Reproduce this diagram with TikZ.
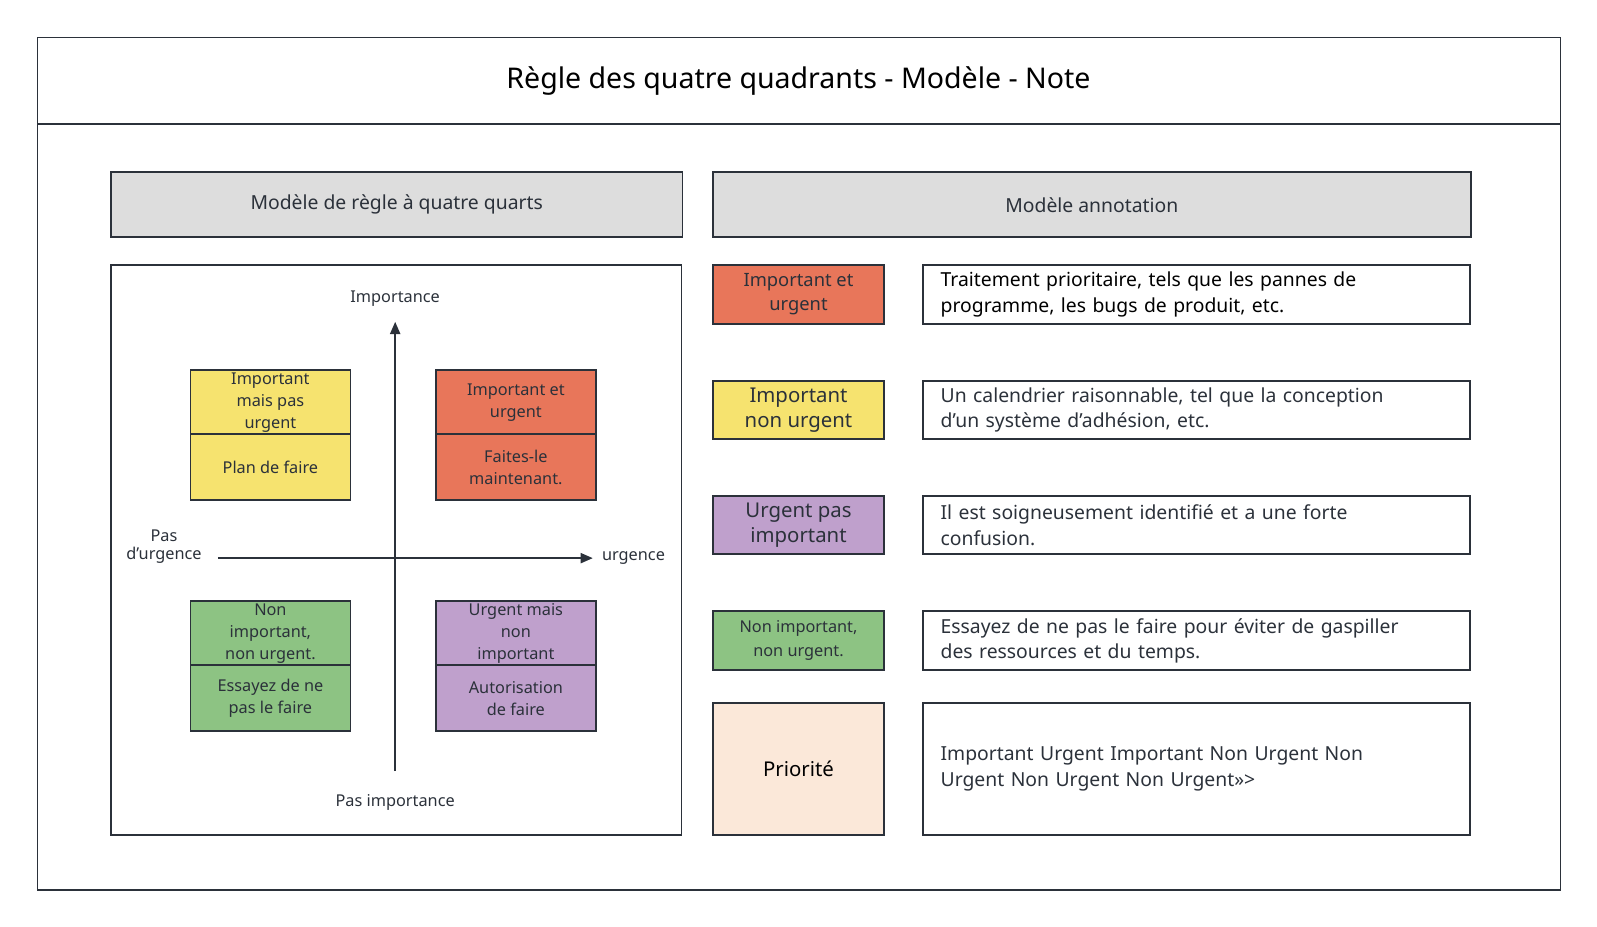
\documentclass[tikz,border=0pt]{standalone}
\usepackage{fontspec}
\setmainfont{Noto Sans}
\usetikzlibrary{arrows.meta}
\definecolor{ln}{HTML}{2B313A}
\definecolor{hd}{HTML}{DDDDDD}
\definecolor{yl}{HTML}{F6E36F}
\definecolor{rd}{HTML}{E8765A}
\definecolor{pu}{HTML}{BFA0CC}
\definecolor{gr}{HTML}{8DC383}
\definecolor{pc}{HTML}{FBE8D9}
\begin{document}
\begin{tikzpicture}[x=1pt,y=-1pt,
  bx/.style={draw=ln,line width=1.6pt},
  q/.style={font=\fontsize{16}{18}\selectfont\bfseries,text=ln,align=center},
  lb/.style={font=\fontsize{19}{23}\selectfont\bfseries,text=ln,align=center},
  tx/.style={font=\fontsize{19}{23}\selectfont,text=ln,align=left,anchor=west,text width=520pt},
  ax/.style={line width=1.6pt,draw=ln,-{Triangle[length=12pt,width=10pt]}}]
\useasboundingbox (0,0) rectangle (1568,910);
\draw[bx] (37,37) rectangle (1532,874);
\draw[bx] (37,122) -- (1532,122);
\node[font=\fontsize{28}{32}\selectfont\bfseries,text=black] (title) at (784,80) {Règle des quatre quadrants - Modèle - Note};
\draw[bx,fill=hd] (109,169) rectangle (670,233);
\node[lb] (h1) at (389.5,201) {Modèle de règle à quatre quarts};
\draw[bx,fill=hd] (700,169) rectangle (1444,233);
\node[lb] (h2) at (1072,201) {Modèle annotation};
\draw[bx] (109,260) rectangle (669,820);
\coordinate (vb) at (388,757); \coordinate (vt) at (388,316);
\coordinate (hl) at (214,548); \coordinate (hr) at (582,548);
\draw[ax] (vb) -- (vt);
\draw[ax] (hl) -- (hr);
\node[q] (l1) at (388,293) {Importance};
\node[q] (l2) at (388,788) {Pas importance};
\node[q] (l3) at (161,537) {Pas\\d'urgence};
\node[q] (l4) at (622,548) {urgence};
% quadrants
\foreach \x/\y/\c/\a/\b in {187/363/yl/{Important\\mais pas\\urgent}/{Plan de faire},
  428/363/rd/{Important et\\urgent}/{Faites-le\\maintenant.},
  187/590/gr/{Non\\important,\\non urgent.}/{Essayez de ne\\pas le faire},
  428/590/pu/{Urgent mais\\non\\important}/{Autorisation\\de faire}}{
  \draw[bx,fill=\c] (\x,\y) rectangle ++(157,128);
  \draw[bx] (\x,\y+63) -- ++(157,0);
  \node[q,font=\fontsize{16}{21.5}\selectfont\bfseries] at (\x+78.5,\y+32) {\a};
  \node[q,font=\fontsize{16}{21.5}\selectfont\bfseries] at (\x+78.5,\y+96) {\b};
}
% annotations
\draw[bx,fill=rd] (700,260) rectangle (868,318);
\node[lb,font=\fontsize{18}{24}\selectfont\bfseries] (a1) at (784,289) {Important et\\urgent};
\draw[bx] (906,260) rectangle (1443,318);
\node[tx,font=\fontsize{19}{25}\selectfont\bfseries,text=black] (t1) at (920,289) {Traitement prioritaire, tels que les pannes de\\programme, les bugs de produit, etc.};
\draw[bx,fill=yl] (700,374) rectangle (868,431);
\node[lb,font=\fontsize{20}{25}\selectfont\bfseries] (a2) at (784,402.5) {Important\\non urgent};
\draw[bx] (906,374) rectangle (1443,431);
\node[tx,font=\fontsize{19}{25}\selectfont] (t2) at (920,402.5) {Un calendrier raisonnable, tel que la conception\\d'un système d'adhésion, etc.};
\draw[bx,fill=pu] (700,487) rectangle (868,544);
\node[lb,font=\fontsize{20}{25}\selectfont\bfseries] (a3) at (784,515.5) {Urgent pas\\important};
\draw[bx] (906,487) rectangle (1443,544);
\node[tx,font=\fontsize{19}{25}\selectfont] (t3) at (920,515.5) {Il est soigneusement identifié et a une forte\\confusion.};
\draw[bx,fill=gr] (700,600) rectangle (868,658);
\node[lb,font=\fontsize{16}{23}\selectfont\bfseries] (a4) at (784,629) {Non important,\\non urgent.};
\draw[bx] (906,600) rectangle (1443,658);
\node[tx,font=\fontsize{19}{25}\selectfont] (t4) at (920,629) {Essayez de ne pas le faire pour éviter de gaspiller\\des ressources et du temps.};
\draw[bx,fill=pc] (700,690) rectangle (868,820);
\node[lb,font=\fontsize{20}{25}\selectfont\bfseries,text=black] (a5) at (784,755) {Priorité};
\draw[bx] (906,690) rectangle (1443,820);
\node[tx,font=\fontsize{19}{25}\selectfont] (t5) at (920,755) {Important Urgent Important Non Urgent Non\\Urgent Non Urgent Non Urgent>>>};
\end{tikzpicture}
\end{document}
